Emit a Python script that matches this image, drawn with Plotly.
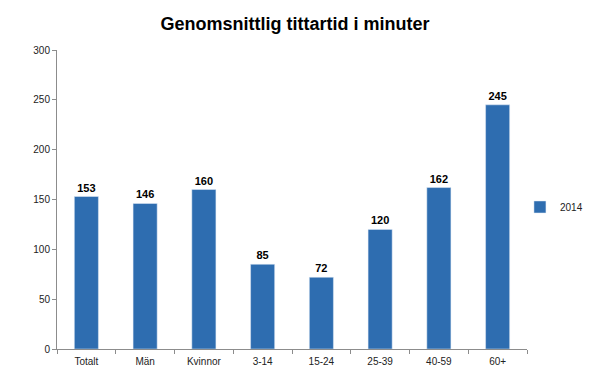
import plotly.graph_objects as go

categories = ["Totalt", "Män", "Kvinnor", "3-14", "15-24", "25-39", "40-59", "60+"]
values_2014 = [153, 146, 160, 85, 72, 120, 162, 245]
series_name = "2014"
title_text = "Genomsnittlig tittartid i minuter"
y_ticks = [0, 50, 100, 150, 200, 250, 300]

fig = go.Figure()
fig.add_trace(go.Bar(
    x=categories, y=values_2014, name=series_name,
    marker=dict(color="#2E6DB0"),
    width=0.41,
    text=[str(v) for v in values_2014],
    textposition="outside",
    textfont=dict(family="Liberation Sans", size=11, color="#000000"),
    texttemplate="<b>%{text}</b>",
    cliponaxis=False,
))

fig.update_layout(
    width=608, height=373,
    margin=dict(l=49, r=89, t=42, b=32),
    paper_bgcolor="white", plot_bgcolor="white",
    title=dict(text="<b>" + title_text + "</b>", x=0.472, xanchor="center", y=0.957, yanchor="middle",
               font=dict(family="Liberation Sans", size=18, color="#000000")),
    showlegend=True,
    legend=dict(x=0.985, y=0.475, xanchor="left", yanchor="middle",
                font=dict(family="Liberation Sans", size=10, color="#222222"),
                itemwidth=30),
    font=dict(family="Liberation Sans", size=10, color="#222222"),
    bargap=0.59,
)
fig.update_xaxes(
    showline=True, linecolor="#8c8c8c", linewidth=1,
    ticks="outside", tickson="boundaries", ticklen=4, tickcolor="#8c8c8c",
    showgrid=False, tickfont=dict(size=10), ticklabelstandoff=3,
)
fig.update_yaxes(
    range=[0, 300], tickvals=y_ticks,
    showline=True, linecolor="#8c8c8c", linewidth=1,
    ticks="outside", ticklen=4, tickcolor="#8c8c8c",
    showgrid=False, zeroline=False, tickfont=dict(size=10),
)

fig.write_html("out.html")
